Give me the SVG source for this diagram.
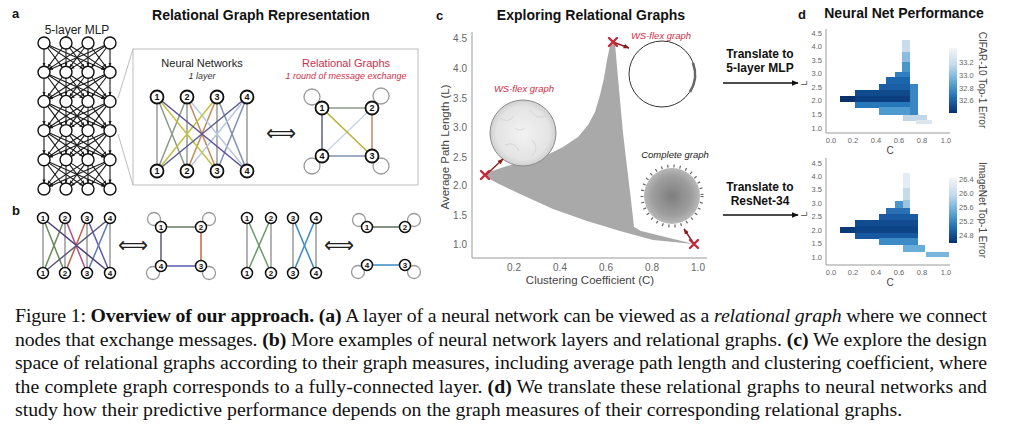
<svg xmlns="http://www.w3.org/2000/svg" xmlns:xlink="http://www.w3.org/1999/xlink" width="1021" height="430" viewBox="0 0 1021 430">
<defs>
<style>
.ttl{font-family:"Liberation Sans",Arial,sans-serif;font-weight:bold;font-size:14px;fill:#111}
.plab{font-family:"Liberation Sans",Arial,sans-serif;font-weight:bold;font-size:13px;fill:#111}
.sans{font-family:"Liberation Sans",Arial,sans-serif}
.mlp{fill:#fff;stroke:#111;stroke-width:1.4}
.mlpe{stroke:#1a1a1a;stroke-width:1.1;marker-end:url(#ah)}
.nn{fill:#fff;stroke:#111;stroke-width:1.8}
.nnb{fill:#fff;stroke:#111;stroke-width:1.5}
.num{font-family:"Liberation Sans",Arial,sans-serif;font-weight:bold;font-size:9px;text-anchor:middle;fill:#111}
.numb{font-family:"Liberation Sans",Arial,sans-serif;font-weight:bold;font-size:8px;text-anchor:middle;fill:#111}
.e{stroke-width:1.5;fill:none}
.loop{fill:none;stroke:#9a9a9a;stroke-width:1.3}
.eq{font-family:"DejaVu Sans",sans-serif;font-size:21px;text-anchor:middle;fill:#222}
.tick{font-family:"Liberation Sans",Arial,sans-serif;font-size:10px;fill:#666}
.tickd{font-family:"Liberation Sans",Arial,sans-serif;font-size:7.5px;fill:#666}
.axis{stroke:#999;stroke-width:1;fill:none}
.xm{stroke:#c8283c;stroke-width:2.4;stroke-linecap:round}
.cap{font-family:"Liberation Serif","Times New Roman",serif;font-size:19.8px;fill:#111}
.red{fill:#d0304a}
</style>
<marker id="ah" viewBox="0 0 10 10" refX="9" refY="5" markerWidth="4" markerHeight="4" markerUnits="userSpaceOnUse" orient="auto"><path d="M0,1 L10,5 L0,9 z" fill="#1a1a1a"/></marker>
<marker id="ahd" viewBox="0 0 10 10" refX="9" refY="5" markerWidth="7" markerHeight="7" markerUnits="userSpaceOnUse" orient="auto"><path d="M0,1 L10,5 L0,9 z" fill="#111"/></marker>
<marker id="ahr" viewBox="0 0 10 10" refX="9" refY="5" markerWidth="6" markerHeight="6" markerUnits="userSpaceOnUse" orient="auto"><path d="M0,1 L10,5 L0,9 z" fill="#8b1c1c"/></marker>
<linearGradient id="cb" x1="0" y1="0" x2="0" y2="1">
<stop offset="0" stop-color="#f4f4f4"/><stop offset="0.25" stop-color="#c6dbef"/><stop offset="0.5" stop-color="#6baed6"/><stop offset="0.75" stop-color="#2171b5"/><stop offset="1" stop-color="#08306b"/>
</linearGradient>
<radialGradient id="cg"><stop offset="0" stop-color="#7e7e7e"/><stop offset="0.7" stop-color="#9e9e9e"/><stop offset="1" stop-color="#b8b8b8"/></radialGradient>
<radialGradient id="wg"><stop offset="0" stop-color="#f2f2f2"/><stop offset="0.8" stop-color="#e4e4e4"/><stop offset="1" stop-color="#cfcfcf"/></radialGradient>
<g id="mlplayer" class="mlpe">
<line x1="44" y1="49" x2="44" y2="66.2"/>
<line x1="47.61" y1="47.79" x2="62.39" y2="67.41"/>
<line x1="49" y1="46.32" x2="83" y2="68.88"/>
<line x1="49.49" y1="45.43" x2="104.51" y2="69.77"/>
<line x1="62.39" y1="47.79" x2="47.61" y2="67.41"/>
<line x1="66" y1="49" x2="66" y2="66.2"/>
<line x1="69.61" y1="47.79" x2="84.39" y2="67.41"/>
<line x1="71" y1="46.32" x2="105" y2="68.88"/>
<line x1="83" y1="46.32" x2="49" y2="68.88"/>
<line x1="84.39" y1="47.79" x2="69.61" y2="67.41"/>
<line x1="88" y1="49" x2="88" y2="66.2"/>
<line x1="91.61" y1="47.79" x2="106.39" y2="67.41"/>
<line x1="104.51" y1="45.43" x2="49.49" y2="69.77"/>
<line x1="105" y1="46.32" x2="71" y2="68.88"/>
<line x1="106.39" y1="47.79" x2="91.61" y2="67.41"/>
<line x1="110" y1="49" x2="110" y2="66.2"/>
</g>
</defs>
<rect x="0" y="0" width="1021" height="430" fill="#fff"/>

<!-- panel labels and titles -->
<text class="plab" x="12" y="18">a</text>
<text class="plab" x="12" y="215">b</text>
<text class="plab" x="436" y="20">c</text>
<text class="plab" x="798" y="19">d</text>
<text class="sans" x="77" y="34" font-size="12" text-anchor="middle" fill="#222">5-layer MLP</text>
<text class="ttl" x="261" y="20" text-anchor="middle">Relational Graph Representation</text>
<text class="ttl" x="591" y="20" text-anchor="middle">Exploring Relational Graphs</text>
<text class="ttl" x="904" y="18" text-anchor="middle">Neural Net Performance</text>

<!-- panel a box -->
<rect x="133" y="49" width="285" height="136" fill="none" stroke="#bdbdbd" stroke-width="1"/>
<line x1="118" y1="98" x2="133" y2="49" stroke="#bdbdbd"/>
<line x1="118" y1="134" x2="133" y2="185" stroke="#bdbdbd"/>
<text class="sans" x="202" y="67" font-size="11" text-anchor="middle" fill="#222">Neural Networks</text>
<text class="sans" x="202" y="79" font-size="9" font-style="italic" text-anchor="middle" fill="#333">1 layer</text>
<text class="sans red" x="346" y="67" font-size="11" text-anchor="middle">Relational Graphs</text>
<text class="sans red" x="346" y="79" font-size="9" font-style="italic" text-anchor="middle">1 round of message exchange</text>
<text class="eq" x="281" y="140">⟺</text>
<text class="eq" x="133" y="252">⟺</text>
<text class="eq" x="339" y="252">⟺</text>

<g id="connectors">
<!-- MLP -->
<use href="#mlplayer"/>
<use href="#mlplayer" transform="translate(0,29.2)"/>
<use href="#mlplayer" transform="translate(0,58.4)"/>
<use href="#mlplayer" transform="translate(0,87.6)"/>
<use href="#mlplayer" transform="translate(0,116.8)"/>
<!-- panel a neural network (complete) -->
<g class="e">
<line x1="157" y1="97" x2="157" y2="171" stroke="#9a9a9a"/>
<line x1="187" y1="97" x2="187" y2="171" stroke="#9a9a9a"/>
<line x1="217" y1="97" x2="217" y2="171" stroke="#9a9a9a"/>
<line x1="247" y1="97" x2="247" y2="171" stroke="#9a9a9a"/>
<line x1="157" y1="97" x2="187" y2="171" stroke="#8c9a88"/>
<line x1="187" y1="97" x2="157" y2="171" stroke="#8c9a88"/>
<line x1="187" y1="97" x2="217" y2="171" stroke="#c08a5a"/>
<line x1="217" y1="97" x2="187" y2="171" stroke="#c08a5a"/>
<line x1="217" y1="97" x2="247" y2="171" stroke="#8090b0"/>
<line x1="247" y1="97" x2="217" y2="171" stroke="#8090b0"/>
<line x1="187" y1="97" x2="247" y2="171" stroke="#b8c8e0"/>
<line x1="247" y1="97" x2="187" y2="171" stroke="#b8c8e0"/>
<line x1="157" y1="97" x2="217" y2="171" stroke="#c4c040"/>
<line x1="217" y1="97" x2="157" y2="171" stroke="#c4c040"/>
<line x1="157" y1="97" x2="247" y2="171" stroke="#5c4f98"/>
<line x1="247" y1="97" x2="157" y2="171" stroke="#5c5f90"/>
</g>
<!-- panel a relational graph -->
<g class="e">
<circle class="loop" cx="312" cy="97" r="8"/>
<circle class="loop" cx="381" cy="96" r="8"/>
<circle class="loop" cx="381" cy="166" r="8"/>
<circle class="loop" cx="312" cy="166" r="8"/>
<line x1="322" y1="108" x2="372" y2="108" stroke="#8c9a88"/>
<line x1="372" y1="108" x2="372" y2="156" stroke="#c08a5a"/>
<line x1="372" y1="156" x2="322" y2="156" stroke="#8090b0"/>
<line x1="322" y1="156" x2="322" y2="108" stroke="#5c5f90"/>
<line x1="372" y1="108" x2="322" y2="156" stroke="#c8d4e8"/>
<line x1="322" y1="108" x2="372" y2="156" stroke="#b8b030"/>
</g>
<!-- panel b group 1 (cycle) -->
<g class="e" stroke-width="1.3">
<line x1="43" y1="218" x2="43" y2="273" stroke="#9a9a9a"/>
<line x1="65" y1="218" x2="65" y2="273" stroke="#9a9a9a"/>
<line x1="87" y1="218" x2="87" y2="273" stroke="#9a9a9a"/>
<line x1="110" y1="218" x2="110" y2="273" stroke="#9a9a9a"/>
<line x1="43" y1="218" x2="65" y2="273" stroke="#6a8a5a"/>
<line x1="65" y1="218" x2="43" y2="273" stroke="#6a8a5a"/>
<line x1="65" y1="218" x2="87" y2="273" stroke="#b0508a"/>
<line x1="87" y1="218" x2="65" y2="273" stroke="#c0604a"/>
<line x1="87" y1="218" x2="110" y2="273" stroke="#5a5ab0"/>
<line x1="110" y1="218" x2="87" y2="273" stroke="#5a7ab0"/>
<line x1="43" y1="218" x2="110" y2="273" stroke="#4a3f78"/>
<line x1="110" y1="218" x2="43" y2="273" stroke="#5a5a7a"/>
</g>
<g class="e" stroke-width="1.3">
<circle class="loop" cx="154" cy="219" r="6.5"/>
<circle class="loop" cx="209" cy="219" r="6.5"/>
<circle class="loop" cx="209" cy="273" r="6.5"/>
<circle class="loop" cx="153" cy="273" r="6.5"/>
<line x1="161" y1="227" x2="201" y2="227" stroke="#6a7a62"/>
<line x1="201" y1="227" x2="201" y2="266" stroke="#d0603a"/>
<line x1="201" y1="266" x2="161" y2="266" stroke="#5a5ab0"/>
<line x1="161" y1="266" x2="161" y2="227" stroke="#5a5a7a"/>
</g>
<!-- panel b group 2 (pairs) -->
<g class="e" stroke-width="1.3">
<line x1="247" y1="218" x2="247" y2="273" stroke="#9a9a9a"/>
<line x1="271" y1="218" x2="271" y2="273" stroke="#9a9a9a"/>
<line x1="293" y1="218" x2="293" y2="273" stroke="#9a9a9a"/>
<line x1="316" y1="218" x2="316" y2="273" stroke="#9a9a9a"/>
<line x1="247" y1="218" x2="271" y2="273" stroke="#6a9a6a"/>
<line x1="271" y1="218" x2="247" y2="273" stroke="#6a9a6a"/>
<line x1="293" y1="218" x2="316" y2="273" stroke="#3a8ac0"/>
<line x1="316" y1="218" x2="293" y2="273" stroke="#3a8ac0"/>
</g>
<g class="e" stroke-width="1.3">
<circle class="loop" cx="359" cy="220" r="6.5"/>
<circle class="loop" cx="414" cy="220" r="6.5"/>
<circle class="loop" cx="414" cy="272" r="6.5"/>
<circle class="loop" cx="358" cy="272" r="6.5"/>
<line x1="367" y1="227" x2="405" y2="227" stroke="#5e6e5e"/>
<line x1="367" y1="265" x2="405" y2="265" stroke="#3a8ac0"/>
</g>
<!-- panel d arrows -->
<line x1="723" y1="83" x2="798" y2="83" stroke="#111" stroke-width="1.6" marker-end="url(#ahd)"/>
<line x1="723" y1="215" x2="798" y2="215" stroke="#111" stroke-width="1.6" marker-end="url(#ahd)"/>
</g>

<!-- MLP nodes -->
<g id="mlp-nodes">
<circle class="mlp" cx="44" cy="43" r="6"/><circle class="mlp" cx="66" cy="43" r="6"/><circle class="mlp" cx="88" cy="43" r="6"/><circle class="mlp" cx="110" cy="43" r="6"/>
<circle class="mlp" cx="44" cy="72.2" r="6"/><circle class="mlp" cx="66" cy="72.2" r="6"/><circle class="mlp" cx="88" cy="72.2" r="6"/><circle class="mlp" cx="110" cy="72.2" r="6"/>
<circle class="mlp" cx="44" cy="101.4" r="6"/><circle class="mlp" cx="66" cy="101.4" r="6"/><circle class="mlp" cx="88" cy="101.4" r="6"/><circle class="mlp" cx="110" cy="101.4" r="6"/>
<circle class="mlp" cx="44" cy="130.6" r="6"/><circle class="mlp" cx="66" cy="130.6" r="6"/><circle class="mlp" cx="88" cy="130.6" r="6"/><circle class="mlp" cx="110" cy="130.6" r="6"/>
<circle class="mlp" cx="44" cy="159.8" r="6"/><circle class="mlp" cx="66" cy="159.8" r="6"/><circle class="mlp" cx="88" cy="159.8" r="6"/><circle class="mlp" cx="110" cy="159.8" r="6"/>
<circle class="mlp" cx="44" cy="189" r="6"/><circle class="mlp" cx="66" cy="189" r="6"/><circle class="mlp" cx="88" cy="189" r="6"/><circle class="mlp" cx="110" cy="189" r="6"/>
</g>

<!-- panel a NN nodes -->
<g id="a-nn-t1"><circle class="nn" cx="157" cy="97" r="6.5"/><text class="num" x="157" y="100.2">1</text></g>
<g id="a-nn-t2"><circle class="nn" cx="187" cy="97" r="6.5"/><text class="num" x="187" y="100.2">2</text></g>
<g id="a-nn-t3"><circle class="nn" cx="217" cy="97" r="6.5"/><text class="num" x="217" y="100.2">3</text></g>
<g id="a-nn-t4"><circle class="nn" cx="247" cy="97" r="6.5"/><text class="num" x="247" y="100.2">4</text></g>
<g id="a-nn-b1"><circle class="nn" cx="157" cy="171" r="6.5"/><text class="num" x="157" y="174.2">1</text></g>
<g id="a-nn-b2"><circle class="nn" cx="187" cy="171" r="6.5"/><text class="num" x="187" y="174.2">2</text></g>
<g id="a-nn-b3"><circle class="nn" cx="217" cy="171" r="6.5"/><text class="num" x="217" y="174.2">3</text></g>
<g id="a-nn-b4"><circle class="nn" cx="247" cy="171" r="6.5"/><text class="num" x="247" y="174.2">4</text></g>
<g id="a-rg-1"><circle class="nn" cx="322" cy="108" r="6.5"/><text class="num" x="322" y="111.2">1</text></g>
<g id="a-rg-2"><circle class="nn" cx="372" cy="108" r="6.5"/><text class="num" x="372" y="111.2">2</text></g>
<g id="a-rg-3"><circle class="nn" cx="372" cy="156" r="6.5"/><text class="num" x="372" y="159.2">3</text></g>
<g id="a-rg-4"><circle class="nn" cx="322" cy="156" r="6.5"/><text class="num" x="322" y="159.2">4</text></g>

<!-- panel b nodes -->
<g id="b1-t1"><circle class="nnb" cx="43" cy="218" r="5.5"/><text class="numb" x="43" y="220.8">1</text></g>
<g id="b1-t2"><circle class="nnb" cx="65" cy="218" r="5.5"/><text class="numb" x="65" y="220.8">2</text></g>
<g id="b1-t3"><circle class="nnb" cx="87" cy="218" r="5.5"/><text class="numb" x="87" y="220.8">3</text></g>
<g id="b1-t4"><circle class="nnb" cx="110" cy="218" r="5.5"/><text class="numb" x="110" y="220.8">4</text></g>
<g id="b1-b1"><circle class="nnb" cx="43" cy="273" r="5.5"/><text class="numb" x="43" y="275.8">1</text></g>
<g id="b1-b2"><circle class="nnb" cx="65" cy="273" r="5.5"/><text class="numb" x="65" y="275.8">2</text></g>
<g id="b1-b3"><circle class="nnb" cx="87" cy="273" r="5.5"/><text class="numb" x="87" y="275.8">3</text></g>
<g id="b1-b4"><circle class="nnb" cx="110" cy="273" r="5.5"/><text class="numb" x="110" y="275.8">4</text></g>
<g id="b1-r1"><circle class="nnb" cx="161" cy="227" r="5.5"/><text class="numb" x="161" y="229.8">1</text></g>
<g id="b1-r2"><circle class="nnb" cx="201" cy="227" r="5.5"/><text class="numb" x="201" y="229.8">2</text></g>
<g id="b1-r3"><circle class="nnb" cx="201" cy="266" r="5.5"/><text class="numb" x="201" y="268.8">3</text></g>
<g id="b1-r4"><circle class="nnb" cx="161" cy="266" r="5.5"/><text class="numb" x="161" y="268.8">4</text></g>
<g id="b2-t1"><circle class="nnb" cx="247" cy="218" r="5.5"/><text class="numb" x="247" y="220.8">1</text></g>
<g id="b2-t2"><circle class="nnb" cx="271" cy="218" r="5.5"/><text class="numb" x="271" y="220.8">2</text></g>
<g id="b2-t3"><circle class="nnb" cx="293" cy="218" r="5.5"/><text class="numb" x="293" y="220.8">3</text></g>
<g id="b2-t4"><circle class="nnb" cx="316" cy="218" r="5.5"/><text class="numb" x="316" y="220.8">4</text></g>
<g id="b2-b1"><circle class="nnb" cx="247" cy="273" r="5.5"/><text class="numb" x="247" y="275.8">1</text></g>
<g id="b2-b2"><circle class="nnb" cx="271" cy="273" r="5.5"/><text class="numb" x="271" y="275.8">2</text></g>
<g id="b2-b3"><circle class="nnb" cx="293" cy="273" r="5.5"/><text class="numb" x="293" y="275.8">3</text></g>
<g id="b2-b4"><circle class="nnb" cx="316" cy="273" r="5.5"/><text class="numb" x="316" y="275.8">4</text></g>
<g id="b2-r1"><circle class="nnb" cx="367" cy="227" r="5.5"/><text class="numb" x="367" y="229.8">1</text></g>
<g id="b2-r2"><circle class="nnb" cx="405" cy="227" r="5.5"/><text class="numb" x="405" y="229.8">2</text></g>
<g id="b2-r3"><circle class="nnb" cx="405" cy="265" r="5.5"/><text class="numb" x="405" y="267.8">3</text></g>
<g id="b2-r4"><circle class="nnb" cx="367" cy="265" r="5.5"/><text class="numb" x="367" y="267.8">4</text></g>

<!-- panel c -->
<g id="panel-c">
<polygon fill="#a9a9a9" points="486,173 492,171 507,166 527,161 547,155 563,147 578,137 588,125 595,112 600,95 604,78 607,60 610,46 615,43 617,67 620,100 623,133 627,167 631,200 634,227 641,231 694,244 653,240 620,231 587,221 553,209 520,194 497,183 486,177"/>
<path class="axis" d="M472,32 V258 H707"/>
<g class="tick" text-anchor="end">
<text x="467" y="42">4.5</text><text x="467" y="71.5">4.0</text><text x="467" y="101.5">3.5</text><text x="467" y="130.5">3.0</text><text x="467" y="160.5">2.5</text><text x="467" y="189">2.0</text><text x="467" y="218.5">1.5</text><text x="467" y="248">1.0</text>
</g>
<g class="tick" text-anchor="middle">
<text x="514" y="271">0.2</text><text x="560" y="271">0.4</text><text x="606" y="271">0.6</text><text x="652" y="271">0.8</text><text x="698" y="271">1.0</text>
</g>
<text class="sans" x="590" y="284" font-size="11.5" text-anchor="middle" fill="#444">Clustering Coefficient (C)</text>
<text class="sans" x="0" y="0" font-size="11.5" text-anchor="middle" fill="#444" transform="translate(449,147) rotate(-90)">Average Path Length (L)</text>
<!-- graphs -->
<circle cx="523" cy="133" r="33" fill="url(#wg)" stroke="#8a8a8a" stroke-width="1"/>
<path d="M500,118 q8,6 14,-2 M530,110 q6,10 16,6 M505,145 q10,-4 14,6 M532,140 q8,8 0,16 M515,128 q4,4 10,0" fill="none" stroke="#d2d2d2" stroke-width="0.8"/>
<text class="sans red" x="524" y="92" font-size="9.5" font-style="italic" text-anchor="middle">WS-flex graph</text>
<circle cx="662" cy="74" r="33" fill="#fff" stroke="#333" stroke-width="1"/>
<path d="M693,63 A33,33 0 0 1 690,92" fill="none" stroke="#666" stroke-width="2.5"/>
<text class="sans red" x="661" y="39" font-size="9.5" font-style="italic" text-anchor="middle">WS-flex graph</text>
<circle cx="672" cy="196" r="28" fill="url(#cg)"/>
<circle cx="672" cy="196" r="30" fill="none" stroke="#666" stroke-width="3" stroke-dasharray="1.2 5"/>
<text class="sans" x="675" y="158" font-size="9.5" font-style="italic" text-anchor="middle" fill="#222">Complete graph</text>
<!-- markers -->
<line x1="486" y1="175" x2="503" y2="159" stroke="#8b1c1c" stroke-width="1.4" marker-end="url(#ahr)"/>
<line x1="613" y1="42" x2="629" y2="48" stroke="#8b1c1c" stroke-width="1.4" marker-end="url(#ahr)"/>
<line x1="694" y1="244" x2="684" y2="229" stroke="#8b1c1c" stroke-width="1.4" marker-end="url(#ahr)"/>
<path class="xm" d="M481,171 l8,8 M489,171 l-8,8"/>
<path class="xm" d="M609,38 l8,8 M617,38 l-8,8"/>
<path class="xm" d="M690,240 l8,8 M698,240 l-8,8"/>
</g>

<!-- panel d -->
<g id="panel-d">
<text class="sans" x="760" y="57.5" font-size="12" font-weight="bold" text-anchor="middle" fill="#111">Translate to</text>
<text class="sans" x="760" y="71.5" font-size="12" font-weight="bold" text-anchor="middle" fill="#111">5-layer MLP</text>
<text class="sans" x="760" y="191" font-size="12" font-weight="bold" text-anchor="middle" fill="#111">Translate to</text>
<text class="sans" x="760" y="205" font-size="12" font-weight="bold" text-anchor="middle" fill="#111">ResNet-34</text>

<!-- chart 1 -->
<path class="axis" d="M826,29 V133 H950" stroke="#bbb"/>
<g class="tickd" text-anchor="end">
<text x="822" y="35.5">4.5</text><text x="822" y="49.1">4.0</text><text x="822" y="62.6">3.5</text><text x="822" y="76.2">3.0</text><text x="822" y="89.8">2.5</text><text x="822" y="103.4">2.0</text><text x="822" y="116.9">1.5</text><text x="822" y="130.5">1.0</text>
</g>
<g class="tickd" text-anchor="middle">
<text x="831" y="143">0.0</text><text x="853" y="143">0.2</text><text x="876" y="143">0.4</text><text x="899" y="143">0.6</text><text x="922" y="143">0.8</text><text x="946" y="143">1.0</text>
</g>
<text class="sans" x="890" y="154" font-size="10" text-anchor="middle" fill="#444">C</text>
<text class="sans" x="0" y="0" font-size="9" text-anchor="middle" fill="#444" transform="translate(807,83) rotate(-90)">L</text>
<rect x="902" y="40" width="8" height="12" fill="#c9dcee"/>
<rect x="902" y="52" width="8" height="10" fill="#8cbde0"/>
<rect x="902" y="62" width="8" height="10" fill="#4a95cc"/>
<rect x="895" y="72" width="15" height="6" fill="#3080c0"/>
<rect x="886" y="77" width="24" height="7" fill="#1d66ad"/>
<rect x="879" y="84" width="31" height="7" fill="#1a5ea6"/>
<rect x="910" y="84" width="8" height="31" fill="#3a86c4"/>
<rect x="855" y="90" width="55" height="6" fill="#0f4a8c"/>
<rect x="840" y="96" width="15" height="6" fill="#08306b"/>
<rect x="855" y="96" width="55" height="6" fill="#0c3f80"/>
<rect x="855" y="102" width="55" height="6" fill="#2777bb"/>
<rect x="879" y="107" width="31" height="8" fill="#4f9bd0"/>
<rect x="903" y="115" width="24" height="6" fill="#c2d6e6"/>
<rect x="916" y="120" width="16" height="4" fill="#dde6ef"/>
<rect x="949" y="48" width="8" height="65" fill="url(#cb)"/>
<g class="tickd" text-anchor="start">
<text x="959" y="65">33.2</text><text x="959" y="78">33.0</text><text x="959" y="91">32.8</text><text x="959" y="103">32.6</text>
</g>
<text class="sans" x="0" y="0" font-size="10" text-anchor="middle" fill="#444" transform="translate(979,80) rotate(90)">CIFAR-10 Top-1 Error</text>

<!-- chart 2 -->
<path class="axis" d="M826,158 V265 H950" stroke="#bbb"/>
<g class="tickd" text-anchor="end">
<text x="822" y="165.5">4.5</text><text x="822" y="178.9">4.0</text><text x="822" y="192.4">3.5</text><text x="822" y="205.8">3.0</text><text x="822" y="219.2">2.5</text><text x="822" y="232.6">2.0</text><text x="822" y="246.1">1.5</text><text x="822" y="259.5">1.0</text>
</g>
<g class="tickd" text-anchor="middle">
<text x="831" y="275">0.0</text><text x="853" y="275">0.2</text><text x="876" y="275">0.4</text><text x="899" y="275">0.6</text><text x="922" y="275">0.8</text><text x="946" y="275">1.0</text>
</g>
<text class="sans" x="890" y="286" font-size="10" text-anchor="middle" fill="#444">C</text>
<text class="sans" x="0" y="0" font-size="9" text-anchor="middle" fill="#444" transform="translate(807,214) rotate(-90)">L</text>
<rect x="903" y="173" width="7" height="15" fill="#e4ecf3"/>
<rect x="903" y="188" width="7" height="12" fill="#c6daeb"/>
<rect x="903" y="200" width="7" height="12" fill="#9cc3e0"/>
<rect x="895" y="201" width="8" height="7" fill="#4a95cc"/>
<rect x="886" y="208" width="24" height="7" fill="#2a70b4"/>
<rect x="879" y="214" width="39" height="7" fill="#1a5aa2"/>
<rect x="855" y="220" width="63" height="7" fill="#114b90"/>
<rect x="840" y="227" width="15" height="6" fill="#0a3a78"/>
<rect x="855" y="226" width="63" height="7" fill="#0c4486"/>
<rect x="855" y="233" width="63" height="6" fill="#1659a0"/>
<rect x="879" y="238" width="39" height="7" fill="#3d8bc6"/>
<rect x="903" y="245" width="22" height="7" fill="#6aaed8"/>
<rect x="926" y="252" width="23" height="5" fill="#7ab6dc"/>
<rect x="949" y="178" width="8" height="65" fill="url(#cb)"/>
<g class="tickd" text-anchor="start">
<text x="959" y="182">26.4</text><text x="959" y="196">26.0</text><text x="959" y="210">25.6</text><text x="959" y="224">25.2</text><text x="959" y="238">24.8</text>
</g>
<text class="sans" x="0" y="0" font-size="10" text-anchor="middle" fill="#444" transform="translate(979,210) rotate(90)">ImageNet Top-1 Error</text>
</g>

<!-- caption -->
<g id="caption">
<text class="cap" x="15" y="322" textLength="972" lengthAdjust="spacing">Figure 1: <tspan font-weight="bold">Overview of our approach.</tspan> <tspan font-weight="bold">(a)</tspan> A layer of a neural network can be viewed as a <tspan font-style="italic">relational graph</tspan> where we connect</text>
<text class="cap" x="15" y="345.5" textLength="972" lengthAdjust="spacing">nodes that exchange messages. <tspan font-weight="bold">(b)</tspan> More examples of neural network layers and relational graphs. <tspan font-weight="bold">(c)</tspan> We explore the design</text>
<text class="cap" x="15" y="369" textLength="972" lengthAdjust="spacing">space of relational graphs according to their graph measures, including average path length and clustering coefficient, where</text>
<text class="cap" x="15" y="392.5" textLength="972" lengthAdjust="spacing">the complete graph corresponds to a fully-connected layer. <tspan font-weight="bold">(d)</tspan> We translate these relational graphs to neural networks and</text>
<text class="cap" x="15" y="416">study how their predictive performance depends on the graph measures of their corresponding relational graphs.</text>
</g>
</svg>
